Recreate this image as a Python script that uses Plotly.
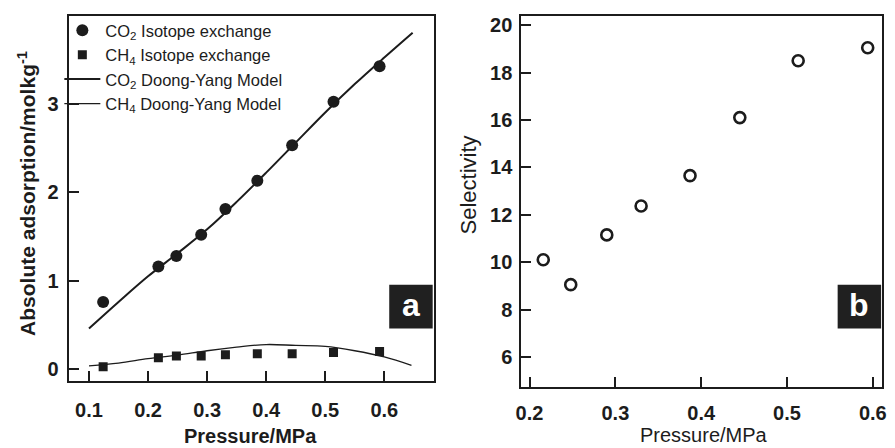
import plotly.graph_objects as go

# ---- data -------------------------------------------------------------
# Panel a: isotope-exchange adsorption and Doong-Yang model curves
pressure_iso = [0.124, 0.2175, 0.248, 0.290, 0.331, 0.385, 0.444, 0.514, 0.592]
co2_iso = [0.76, 1.16, 1.28, 1.52, 1.81, 2.13, 2.53, 3.02, 3.42]
ch4_iso = [0.03, 0.13, 0.15, 0.15, 0.165, 0.175, 0.175, 0.19, 0.20]

co2_model_p = [0.10, 0.15, 0.20, 0.25, 0.30, 0.35, 0.40, 0.45, 0.50, 0.55, 0.60, 0.648]
co2_model = [0.46, 0.76, 1.05, 1.31, 1.58, 1.89, 2.22, 2.56, 2.90, 3.22, 3.52, 3.80]

ch4_model_p = [0.10, 0.15, 0.20, 0.25, 0.30, 0.35, 0.40, 0.45, 0.50, 0.55, 0.60, 0.646]
ch4_model = [0.04, 0.07, 0.12, 0.16, 0.21, 0.25, 0.28, 0.27, 0.26, 0.21, 0.14, 0.045]

# Panel b: CO2/CH4 selectivity
pressure_sel = [0.216, 0.248, 0.290, 0.330, 0.387, 0.445, 0.513, 0.594]
selectivity = [10.1, 9.05, 11.15, 12.37, 13.65, 16.1, 18.5, 19.05]

x_ticks_a = [0.1, 0.2, 0.3, 0.4, 0.5, 0.6]
y_ticks_a = [0, 1, 2, 3]
x_ticks_b = [0.2, 0.3, 0.4, 0.5, 0.6]
y_ticks_b = [6, 8, 10, 12, 14, 16, 18, 20]

# ---- figure -----------------------------------------------------------
W, H = 895, 448
FONT = "Liberation Sans, Arial, sans-serif"
INK = "#1c1c1c"

fig = go.Figure()

fig.add_trace(go.Scatter(
    x=pressure_iso, y=co2_iso, mode="markers",
    name="CO<sub>2</sub> Isotope exchange",
    marker=dict(symbol="circle", size=12, color=INK),
    xaxis="x", yaxis="y"))
fig.add_trace(go.Scatter(
    x=pressure_iso, y=ch4_iso, mode="markers",
    name="CH<sub>4</sub> Isotope exchange",
    marker=dict(symbol="square", size=9, color=INK),
    xaxis="x", yaxis="y"))
fig.add_trace(go.Scatter(
    x=co2_model_p, y=co2_model, mode="lines",
    name="CO<sub>2</sub> Doong-Yang Model",
    line=dict(color=INK, width=2, shape="spline"),
    xaxis="x", yaxis="y"))
fig.add_trace(go.Scatter(
    x=ch4_model_p, y=ch4_model, mode="lines",
    name="CH<sub>4</sub> Doong-Yang Model",
    line=dict(color=INK, width=1.3, shape="spline"),
    xaxis="x", yaxis="y"))

fig.add_trace(go.Scatter(
    x=pressure_sel, y=selectivity, mode="markers",
    name="Selectivity", showlegend=False,
    marker=dict(symbol="circle-open", size=11, color=INK,
                line=dict(width=2.6, color=INK)),
    xaxis="x2", yaxis="y2"))

# panel geometry in pixels
a_left, a_right, a_top, a_bottom = 63.5, 433.0, 14.0, 381.0
b_left, b_right, b_top, b_bottom = 521.7, 886.5, 14.0, 387.0


def px_x(p):
    return p / W


def px_y(p):
    return (H - p) / H


axis_common = dict(
    showgrid=False, zeroline=False, showline=True, linewidth=2,
    linecolor=INK, mirror=True, ticks="inside", ticklen=10, tickwidth=2,
    tickcolor=INK,
    tickfont=dict(family=FONT, size=20, color=INK, weight="bold"),
)

fig.update_layout(
    width=W, height=H,
    margin=dict(l=0, r=0, t=0, b=0),
    paper_bgcolor="white", plot_bgcolor="white",
    font=dict(family=FONT, color=INK),
    xaxis=dict(domain=[px_x(a_left), px_x(a_right)], range=[0.0657, 0.6836],
               tickvals=x_ticks_a, ticktext=[f"{v:.1f}" for v in x_ticks_a],
               anchor="y", ticklabelstandoff=10, **axis_common),
    yaxis=dict(domain=[px_y(a_bottom), px_y(a_top)], range=[-0.135, 3.989],
               tickvals=y_ticks_a, ticktext=[str(v) for v in y_ticks_a],
               anchor="x", ticklabelstandoff=4, **axis_common),
    xaxis2=dict(domain=[px_x(b_left), px_x(b_right)], range=[0.1904, 0.6102],
                tickvals=x_ticks_b, ticktext=[f"{v:.1f}" for v in x_ticks_b],
                anchor="y2", ticklabelstandoff=7, **axis_common),
    yaxis2=dict(domain=[px_y(b_bottom), px_y(b_top)], range=[4.72, 20.39],
                tickvals=y_ticks_b, ticktext=[str(v) for v in y_ticks_b],
                anchor="x2", ticklabelstandoff=3, **axis_common),
    legend=dict(
        x=px_x(54), y=px_y(11), xanchor="left", yanchor="top",
        bgcolor="rgba(0,0,0,0)", borderwidth=0,
        font=dict(family=FONT, size=16.5, color=INK),
        tracegroupgap=0, itemwidth=36,
    ),
    showlegend=True,
)

# axis titles
title_pos = dict(xref="paper", yref="paper", showarrow=False,
                 xanchor="center", yanchor="middle")
fig.add_annotation(text="Pressure/MPa", x=px_x(248), y=px_y(436),
                   font=dict(family=FONT, size=20, color=INK, weight="bold"),
                   **title_pos)
fig.add_annotation(text="Pressure/MPa", x=px_x(707), y=px_y(435),
                   font=dict(family=FONT, size=20, color=INK), **title_pos)
fig.add_annotation(text="Absolute adsorption/molkg<sup>-1</sup>",
                   x=px_x(21), y=px_y(192), textangle=-90,
                   font=dict(family=FONT, size=21, color=INK, weight="bold"),
                   **title_pos)
fig.add_annotation(text="Selectivity", x=px_x(468), y=px_y(184),
                   textangle=-90,
                   font=dict(family=FONT, size=22, color=INK), **title_pos)

# panel labels: white letters on black tiles
for letter, x0, x1 in (("a", 388, 432), ("b", 842, 886)):
    fig.add_shape(type="rect", xref="paper", yref="paper",
                  x0=px_x(x0), x1=px_x(x1), y0=px_y(328), y1=px_y(284),
                  fillcolor="#202020", line=dict(width=0), layer="above")
    fig.add_annotation(text=letter, x=px_x((x0 + x1) / 2), y=px_y(304),
                       font=dict(family=FONT, size=32, color="white",
                                 weight="bold"), **title_pos)

fig.write_html("out.html")
